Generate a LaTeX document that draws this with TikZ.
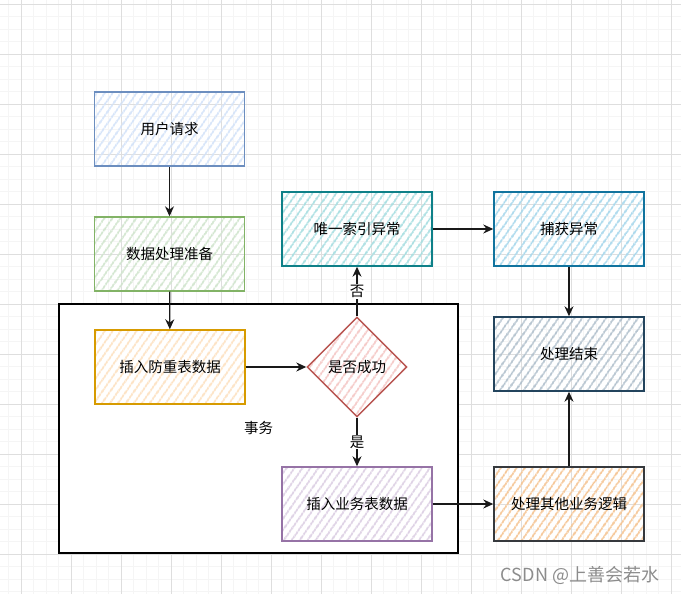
\documentclass[tikz,border=0pt]{standalone}
\usepackage{fontspec}
\setmainfont{Noto Sans CJK SC}
\usetikzlibrary{arrows.meta,shapes.geometric,patterns.meta}

\definecolor{bluefill}{HTML}{DAE8FC}\definecolor{bluedraw}{HTML}{6C8EBF}
\definecolor{greenfill}{HTML}{D5E8D4}\definecolor{greendraw}{HTML}{82B366}
\definecolor{orangefill}{HTML}{FFE6CC}\definecolor{orangedraw}{HTML}{D79B00}
\definecolor{redfill}{HTML}{F8CECC}\definecolor{reddraw}{HTML}{B85450}
\definecolor{tealfill}{HTML}{B0E3E6}\definecolor{tealdraw}{HTML}{0E8088}
\definecolor{skyfill}{HTML}{B1DDF0}\definecolor{skydraw}{HTML}{10739E}
\definecolor{slatefill}{HTML}{BAC8D3}\definecolor{slatedraw}{HTML}{23445D}
\definecolor{purplefill}{HTML}{E1D5E7}\definecolor{purpledraw}{HTML}{9673A6}
\definecolor{peachfill}{HTML}{FFCC99}\definecolor{peachdraw}{HTML}{36393D}

\begin{document}
\begin{tikzpicture}[
        x = 1pt, y = -1pt,
        font = \fontsize{14.5}{17}\selectfont,
        gridminor/.style = {draw=black!4, line width=0.6pt},
        gridmajor/.style = {draw=black!13, line width=0.7pt},
        box/.style       = {draw=#1draw, line width=1.4pt, minimum width=150pt, minimum height=74pt,
                            pattern={Lines[angle=55, distance=6.5pt, line width=2pt]}, pattern color=#1fill!95!#1draw},
        decision/.style  = {diamond, aspect=1, inner sep=0pt, minimum width=100pt, minimum height=100pt,
                            draw=#1draw, line width=1.4pt,
                            pattern={Lines[angle=55, distance=6.5pt, line width=2pt]}, pattern color=#1fill!95!#1draw},
        group/.style     = {draw=black, fill=white, line width=1.4pt, minimum width=399pt, minimum height=249pt},
        flow/.style      = {draw=black!90, line width=1.3pt, -{Stealth[length=10pt, width=9pt]}},
        answer/.style    = {fill=white, inner sep=1pt},
      ]
    \useasboundingbox (0,0) rectangle (681,594);
    % background grid
    \draw[gridminor, step=12.5pt, xshift=21pt, yshift=-4pt] (-25,-25) grid (675,600);
    \draw[gridmajor, step=50pt, xshift=21pt, yshift=-4pt] (-25,-25) grid (675,600);

    \node[group] (txn) at (258.5,428.5) {事务};

    \node[box=blue]   (request)  at (169.5,129) {用户请求};
    \node[box=green]  (prepare)  at (169.5,254) {数据处理准备};
    \node[box=orange] (dedup)    at (170,367)   {插入防重表数据};
    \node[decision=red] (success) at (357,367)  {是否成功};
    \node[box=teal]   (uniqerr)  at (357,229)   {唯一索引异常};
    \node[box=sky]    (catcherr) at (569,229)   {捕获异常};
    \node[box=slate]  (finish)   at (569,354)   {处理结束};
    \node[box=purple] (bizdata)  at (357,504)   {插入业务表数据};
    \node[box=peach]  (otherbiz) at (569,504)   {处理其他业务逻辑};

    \draw[flow] (request) -- (prepare);
    \draw[flow] (prepare) -- (dedup);
    \draw[flow] (dedup) -- (success);
    \draw[flow] (success) -- node[answer] {否} (uniqerr);
    \draw[flow] (success) -- node[answer] {是} (bizdata);
    \draw[flow] (uniqerr) -- (catcherr);
    \draw[flow] (catcherr) -- (finish);
    \draw[flow] (bizdata) -- (otherbiz);
    \draw[flow] (otherbiz) -- (finish);

    \node[text=black!45, font=\fontsize{18}{21}\selectfont] (mark) at (580,575) {CSDN @上善会若水};
\end{tikzpicture}
\end{document}
